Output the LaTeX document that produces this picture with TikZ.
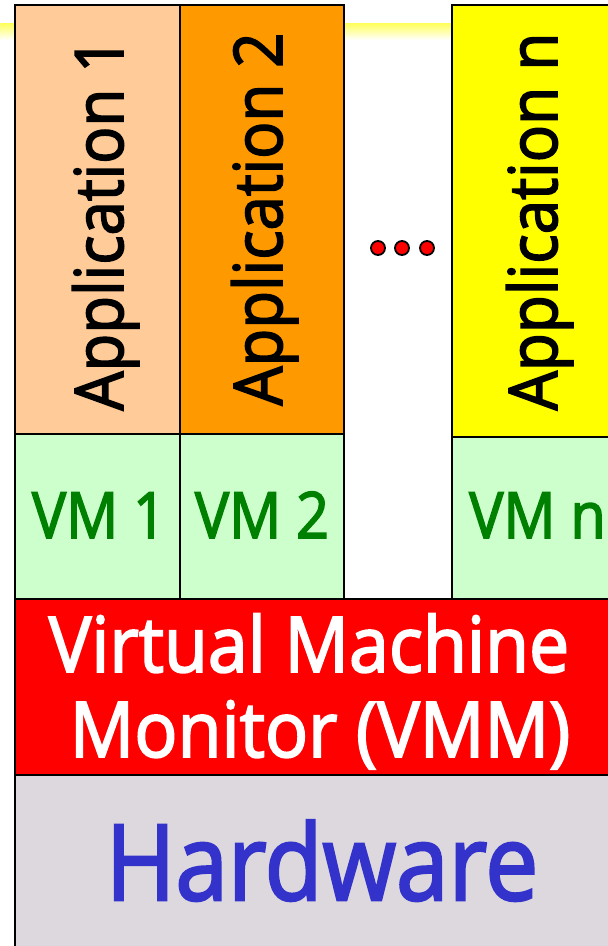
\documentclass[tikz,border=0pt]{standalone}
\usepackage{fontspec}
\setmainfont[FakeBold=2.5]{Open Sans}
\usepackage{graphicx}

\definecolor{appone}{HTML}{FFCC99}
\definecolor{apptwo}{HTML}{FF9900}
\definecolor{appn}{HTML}{FFFF00}
\definecolor{vmfill}{HTML}{CCFFCC}
\definecolor{vmgreen}{HTML}{008000}
\definecolor{vmmred}{HTML}{FF0000}
\definecolor{hwgray}{HTML}{DCD8DD}
\definecolor{hwblue}{HTML}{3333CC}

% horizontally condensed text
\newcommand{\narrowtext}[2]{\scalebox{#1}[1]{#2}}

\tikzset{
  layerbox/.style={draw=black, line width=2.2pt},
  apptext/.style={rotate=90, anchor=base, inner sep=0pt,
    font=\fontsize{67}{80}\selectfont, text=black},
  vmtext/.style={anchor=base, inner sep=0pt,
    font=\fontsize{64}{76}\selectfont, text=vmgreen},
  vmmtext/.style={anchor=base, inner sep=0pt,
    font=\fontsize{77}{90}\selectfont, text=white},
  hwtext/.style={anchor=base, inner sep=0pt,
    font=\fontsize{105}{120}\selectfont, text=hwblue},
  dot/.style={circle, draw=black, line width=1.8pt, fill=red,
    minimum size=14pt, inner sep=0pt}
}

\begin{document}
\begin{tikzpicture}[x=1pt, y=-1pt]
\useasboundingbox (0,0) rectangle (608,946);
\clip (0,0) rectangle (608,946);

% title underline band
\shade[top color=yellow!65, bottom color=white] (0,23) rectangle (608,40);

% application boxes
\path[layerbox, fill=appone] (15,5) rectangle (180,434);
\path[layerbox, fill=apptwo] (180,5) rectangle (344,434);
\path[layerbox, fill=appn]   (452,5) rectangle (640,437);

% virtual machines
\path[layerbox, fill=vmfill] (15,434) rectangle (180,599);
\path[layerbox, fill=vmfill] (180,434) rectangle (344,599);
\path[layerbox, fill=vmfill] (452,437) rectangle (640,599);

% monitor and hardware layers
\path[layerbox, fill=vmmred] (15,599) rectangle (640,775);
\path[layerbox, fill=hwgray] (15,775) rectangle (640,980);

% labels
\node[apptext] (app1) at (123,224) {\narrowtext{0.92}{Application 1}};
\node[apptext] (app2) at (282,219) {\narrowtext{0.92}{Application 2}};
\node[apptext] (appN) at (557,221.5) {\narrowtext{0.925}{Application n}};

\node[vmtext] (vm1) at (99,538) {\narrowtext{0.9}{VM 1}};
\node[vmtext] (vm2) at (262,538) {\narrowtext{0.9}{VM 2}};
\node[vmtext, anchor=base west] (vmN) at (469,538) {\narrowtext{0.9}{VM n}};

\node[vmmtext] (vmm1) at (309,672) {\narrowtext{0.93}{Virtual Machine}};
\node[vmmtext] (vmm2) at (320,757) {\narrowtext{0.93}{Monitor (VMM)}};

\node[hwtext] (hw) at (322,900) {\narrowtext{0.9}{Hardware}};

% ellipsis between the virtual machines
\node[dot] (d1) at (378,248) {};
\node[dot] (d2) at (402,248) {};
\node[dot] (d3) at (427,248) {};
\end{tikzpicture}
\end{document}
